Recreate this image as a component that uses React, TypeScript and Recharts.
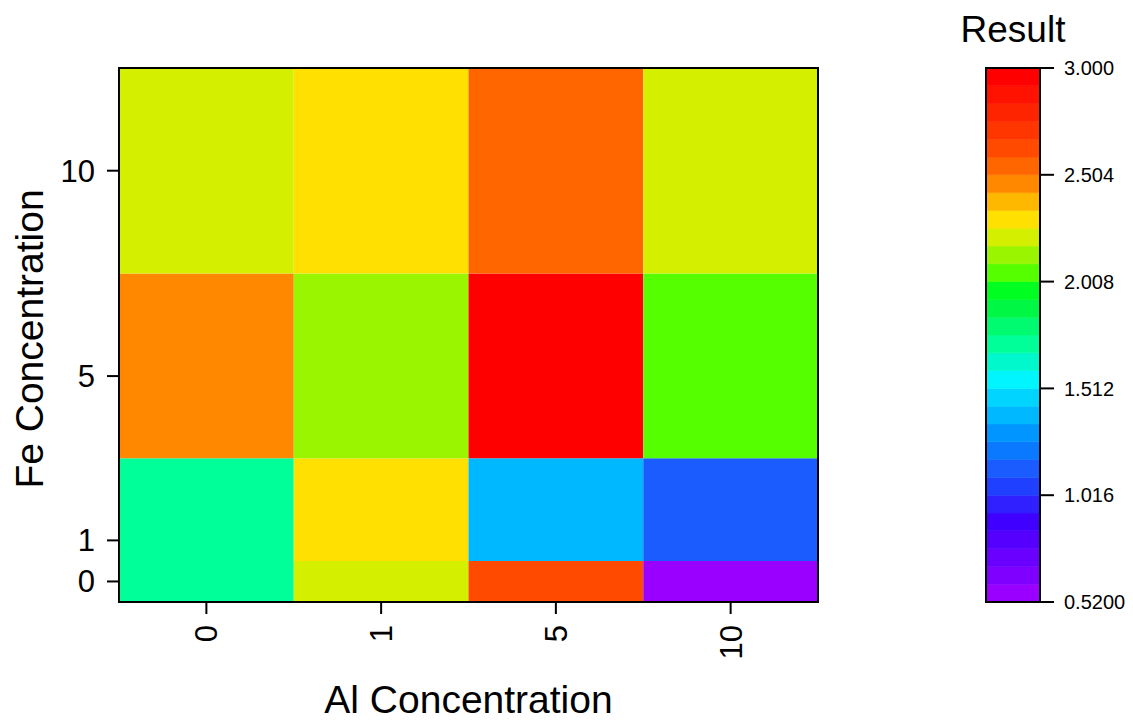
import { ComposedChart, XAxis, YAxis, ReferenceArea, Scatter, Label } from 'recharts';

const alLevels = ['0', '1', '5', '10'];
const feLevels = [0, 1, 5, 10];

// Result per Fe row, in Al order
const resultFe0 = [1.71, 2.22, 2.63, 0.52];
const resultFe1 = [1.73, 2.3, 1.39, 1.14];
const resultFe5 = [2.46, 2.13, 3.0, 2.05];
const resultFe10 = [2.22, 2.3, 2.55, 2.22];
const resultRows = [resultFe0, resultFe1, resultFe5, resultFe10];

const colorTicks = [0.52, 1.016, 1.512, 2.008, 2.504, 3.0];

// rainbow table, low -> high
const palette = [
  '#9900ff', '#8000ff', '#6a00ff', '#5500ff', '#4000ff', '#3020ff',
  '#2040ff', '#1a5cff', '#0a78ff', '#0095ff', '#00b8ff', '#00d4ff',
  '#00f5ff', '#00f8cc', '#00ff99', '#00fa70', '#00f845', '#00ff20',
  '#55ff00', '#99f500', '#d4f000', '#ffe000', '#ffb800', '#ff8800',
  '#ff6600', '#ff4a00', '#ff3600', '#ff2400', '#ff1200', '#ff0000',
];

const FONT = '"Liberation Sans", Arial, Helvetica, sans-serif';

const allValues = resultRows.flat();
const cMin = Math.min(...allValues);
const cMax = Math.max(...allValues);
const step = (cMax - cMin) / palette.length;
const colorFor = (v: number) =>
  palette[Math.min(palette.length - 1, Math.max(0, Math.floor((v - cMin) / step + 1e-9)))];

// cell edges halfway between neighbouring levels
const edges = (levels: number[]) =>
  levels.map((v, i) => {
    const lo = i === 0 ? v - (levels[1] - v) / 2 : (levels[i - 1] + v) / 2;
    const hi = i === levels.length - 1 ? v + (v - levels[i - 1]) / 2 : (v + levels[i + 1]) / 2;
    return [lo, hi];
  });

const alIdx = alLevels.map((_, i) => i);
const alEdges = edges(alIdx);
const feEdges = edges(feLevels);

const cells: any[] = [];
feLevels.forEach((fe, r) =>
  alIdx.forEach((c) =>
    cells.push({
      col: c,
      fe,
      value: resultRows[r][c],
      x1: alEdges[c][0],
      x2: alEdges[c][1],
      y1: feEdges[r][0],
      y2: feEdges[r][1],
    })
  )
);

const bands = palette.map((fill, k) => ({
  x: 0.5,
  y: cMin + (k + 0.5) * step,
  y1: cMin + k * step,
  y2: cMin + (k + 1) * step,
  fill,
}));

const RotTick = (props: any) => {
  const { x, y, payload } = props;
  return (
    <text
      x={x}
      y={y}
      transform={`rotate(-90, ${x}, ${y})`}
      textAnchor="end"
      dy="0.355em"
      fontSize={31}
      fill="#000"
      fontFamily={FONT}
    >
      {alLevels[payload.value]}
    </text>
  );
};

const FeTitle = (props: any) => {
  const vb = props.viewBox;
  const cx = vb.x + 43;
  const cy = vb.y + vb.height / 2 + 4;
  return (
    <text x={cx} y={cy} transform={`rotate(-90, ${cx}, ${cy})`} textAnchor="middle" fontSize={39} fill="#000" fontFamily={FONT}>
      Fe Concentration
    </text>
  );
};

const AlTitle = (props: any) => {
  const vb = props.viewBox;
  return (
    <text x={vb.x + vb.width / 2} y={vb.y + 111} textAnchor="middle" fontSize={39} fill="#000" fontFamily={FONT}>
      Al Concentration
    </text>
  );
};

export default function App() {
  return (
    <div style={{ position: 'absolute', left: 0, top: 0, width: 1133, height: 722, background: '#fff' }}>
      <div style={{ position: 'absolute', left: 0, top: 0 }}>
        <ComposedChart width={960} height={722} data={cells} margin={{ top: 68, right: 142, bottom: 0, left: 0 }}>
          <XAxis
            type="number"
            dataKey="col"
            domain={[alEdges[0][0], alEdges[alEdges.length - 1][1]]}
            ticks={alIdx}
            interval={0}
            height={120}
            axisLine={false}
            tickSize={12}
            tickMargin={11}
            tickLine={{ stroke: '#000', strokeWidth: 2 }}
            tick={<RotTick />}
          >
            <Label content={<AlTitle />} />
          </XAxis>
          <YAxis
            type="number"
            dataKey="fe"
            domain={[feEdges[0][0], feEdges[feEdges.length - 1][1]]}
            ticks={feLevels}
            interval={0}
            width={119}
            axisLine={false}
            tickSize={12}
            tickMargin={12}
            tickLine={{ stroke: '#000', strokeWidth: 2 }}
            tick={{ fill: '#000', fontSize: 31, fontFamily: FONT }}
          >
            <Label content={<FeTitle />} />
          </YAxis>
          {cells.map((c, i) => (
            <ReferenceArea
              key={i}
              x1={c.x1}
              x2={c.x2}
              y1={c.y1}
              y2={c.y2}
              fill={colorFor(c.value)}
              fillOpacity={1}
              stroke="none"
            />
          ))}
          <ReferenceArea
            x1={alEdges[0][0]}
            x2={alEdges[alEdges.length - 1][1]}
            y1={feEdges[0][0]}
            y2={feEdges[feEdges.length - 1][1]}
            fill="none"
            stroke="#000"
            strokeWidth={2}
          />
          <Scatter dataKey="fe" isAnimationActive={false} shape={() => <g />} legendType="none" />
        </ComposedChart>
      </div>
      <div style={{ position: 'absolute', left: 940, top: 0 }}>
        <ComposedChart width={193} height={722} data={bands} margin={{ top: 68, right: 0, bottom: 120, left: 46 }}>
          <XAxis type="number" dataKey="x" domain={[0, 1]} hide />
          <YAxis
            type="number"
            dataKey="y"
            orientation="right"
            domain={[cMin, cMax]}
            ticks={colorTicks}
            interval={0}
            width={93}
            axisLine={false}
            tickSize={14}
            tickMargin={10}
            tickLine={{ stroke: '#000', strokeWidth: 2 }}
            tick={{ fill: '#000', fontSize: 20, fontFamily: FONT }}
            tickFormatter={(v: number) => v.toPrecision(4)}
          />
          {bands.map((b, k) => (
            <ReferenceArea
              key={k}
              x1={0}
              x2={1}
              y1={b.y1}
              y2={b.y2}
              fill={b.fill}
              fillOpacity={1}
              stroke={b.fill}
              strokeWidth={0.6}
            />
          ))}
          <ReferenceArea
            x1={0}
            x2={1}
            y1={cMin}
            y2={cMax}
            fill="none"
            stroke="#000"
            strokeWidth={2}
            label={{ value: 'Result', position: 'top', offset: 26, fill: '#000', fontSize: 37, fontFamily: FONT }}
          />
          <Scatter dataKey="y" isAnimationActive={false} shape={() => <g />} legendType="none" />
        </ComposedChart>
      </div>
    </div>
  );
}
